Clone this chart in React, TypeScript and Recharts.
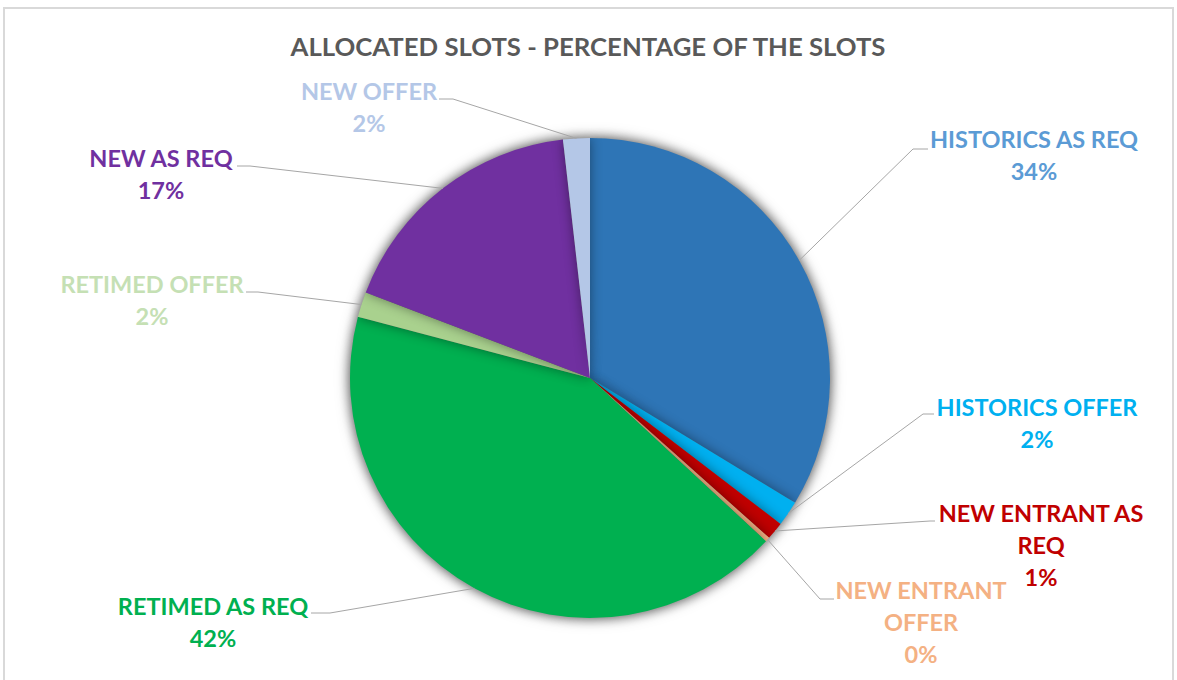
import React from 'react';
import { PieChart, Pie, Cell } from 'recharts';

const categories = [
  'HISTORICS AS REQ',
  'HISTORICS OFFER',
  'NEW ENTRANT AS REQ',
  'NEW ENTRANT OFFER',
  'RETIMED AS REQ',
  'RETIMED OFFER',
  'NEW AS REQ',
  'NEW OFFER',
];
const shares = [33.7, 1.7, 1.2, 0.3, 42.2, 1.7, 17.4, 1.8];

const sliceColors = ['#2E75B6', '#00B0F0', '#C00000', '#F4B183', '#00B050', '#A9D18E', '#7030A0', '#B4C7E7'];
const labelColors = ['#5B9BD5', '#00B0F0', '#C00000', '#F4B183', '#00B050', '#C5E0B4', '#7030A0', '#B4C7E7'];

// where each data label sits (text centre / first baseline) and where its leader line bends
const labelLayout = [
  { x: 1034, y: 148, elbowX: 913, elbowY: 149, sideX: 928, wrap: 0 },
  { x: 1037, y: 416, elbowX: 923, elbowY: 414, sideX: 934, wrap: 0 },
  { x: 1041, y: 522, elbowX: 930, elbowY: 521, sideX: 935, wrap: 3 },
  { x: 921, y: 599, elbowX: 820, elbowY: 599, sideX: 834, wrap: 2 },
  { x: 213, y: 615, elbowX: 330, elbowY: 613, sideX: 311, wrap: 0 },
  { x: 152, y: 293, elbowX: 258, elbowY: 292, sideX: 246, wrap: 0 },
  { x: 161, y: 167, elbowX: 250, elbowY: 166, sideX: 237, wrap: 0 },
  { x: 369, y: 100, elbowX: 453, elbowY: 99, sideX: 439, wrap: 0 },
];

const data = categories.map((name, i) => ({ name, value: shares[i] }));

const FONT = 'Lato, "Open Sans", sans-serif';
const RAD = Math.PI / 180;

const renderLabel = (props: any) => {
  const { cx, cy, midAngle, outerRadius, index, percent } = props;
  const lay = labelLayout[index];
  const ex = cx + outerRadius * Math.cos(-midAngle * RAD);
  const ey = cy + outerRadius * Math.sin(-midAngle * RAD);
  const words = categories[index].split(' ');
  const lines = lay.wrap
    ? [words.slice(0, lay.wrap).join(' '), words.slice(lay.wrap).join(' ')]
    : [categories[index]];
  lines.push(`${Math.round(percent * 100)}%`);
  return (
    <g key={`lbl-${index}`}>
      <polyline
        points={`${ex},${ey} ${lay.elbowX},${lay.elbowY} ${lay.sideX},${lay.elbowY}`}
        fill="none"
        stroke="#A6A6A6"
        strokeWidth={1}
      />
      {lines.map((t, k) => (
        <text
          key={k}
          x={lay.x}
          y={lay.y + k * 32}
          textAnchor="middle"
          fill={labelColors[index]}
          fontFamily={FONT}
          fontWeight={700}
          fontSize={23.5}
        >
          {t}
        </text>
      ))}
    </g>
  );
};

export default function App() {
  return (
    <div style={{ position: 'absolute', left: 0, top: 0, width: 1177, height: 680, background: '#fff', overflow: 'hidden' }}>
      <style>{`.pie-shadow { filter: drop-shadow(0 0 6px rgba(0,0,0,0.42)); }`}</style>
      <div
        style={{
          position: 'absolute',
          left: 3,
          top: 7,
          width: 1167,
          height: 700,
          border: '2px solid #D9D9D9',
        }}
      />
      <div style={{ position: 'absolute', left: 0, top: 0 }}>
        <PieChart width={1177} height={680} margin={{ top: 0, right: 0, bottom: 0, left: 0 }}>
          <text
            x={588}
            y={56}
            textAnchor="middle"
            fill="#595959"
            fontFamily={FONT}
            fontWeight={700}
            fontSize={24}
            textLength={595}
            lengthAdjust="spacingAndGlyphs"
          >
            ALLOCATED SLOTS - PERCENTAGE OF THE SLOTS
          </text>
          <Pie
            className="pie-shadow"
            data={data}
            dataKey="value"
            nameKey="name"
            cx={590}
            cy={378}
            outerRadius={240}
            startAngle={90}
            endAngle={-270}
            stroke="none"
            isAnimationActive={false}
          >
            {data.map((d, i) => (
              <Cell key={d.name} fill={sliceColors[i]} />
            ))}
          </Pie>
          <Pie
            data={data}
            dataKey="value"
            nameKey="name"
            cx={590}
            cy={378}
            outerRadius={240}
            startAngle={90}
            endAngle={-270}
            fill="none"
            stroke="none"
            label={renderLabel}
            labelLine={false}
            isAnimationActive={false}
          />
        </PieChart>
      </div>
    </div>
  );
}
